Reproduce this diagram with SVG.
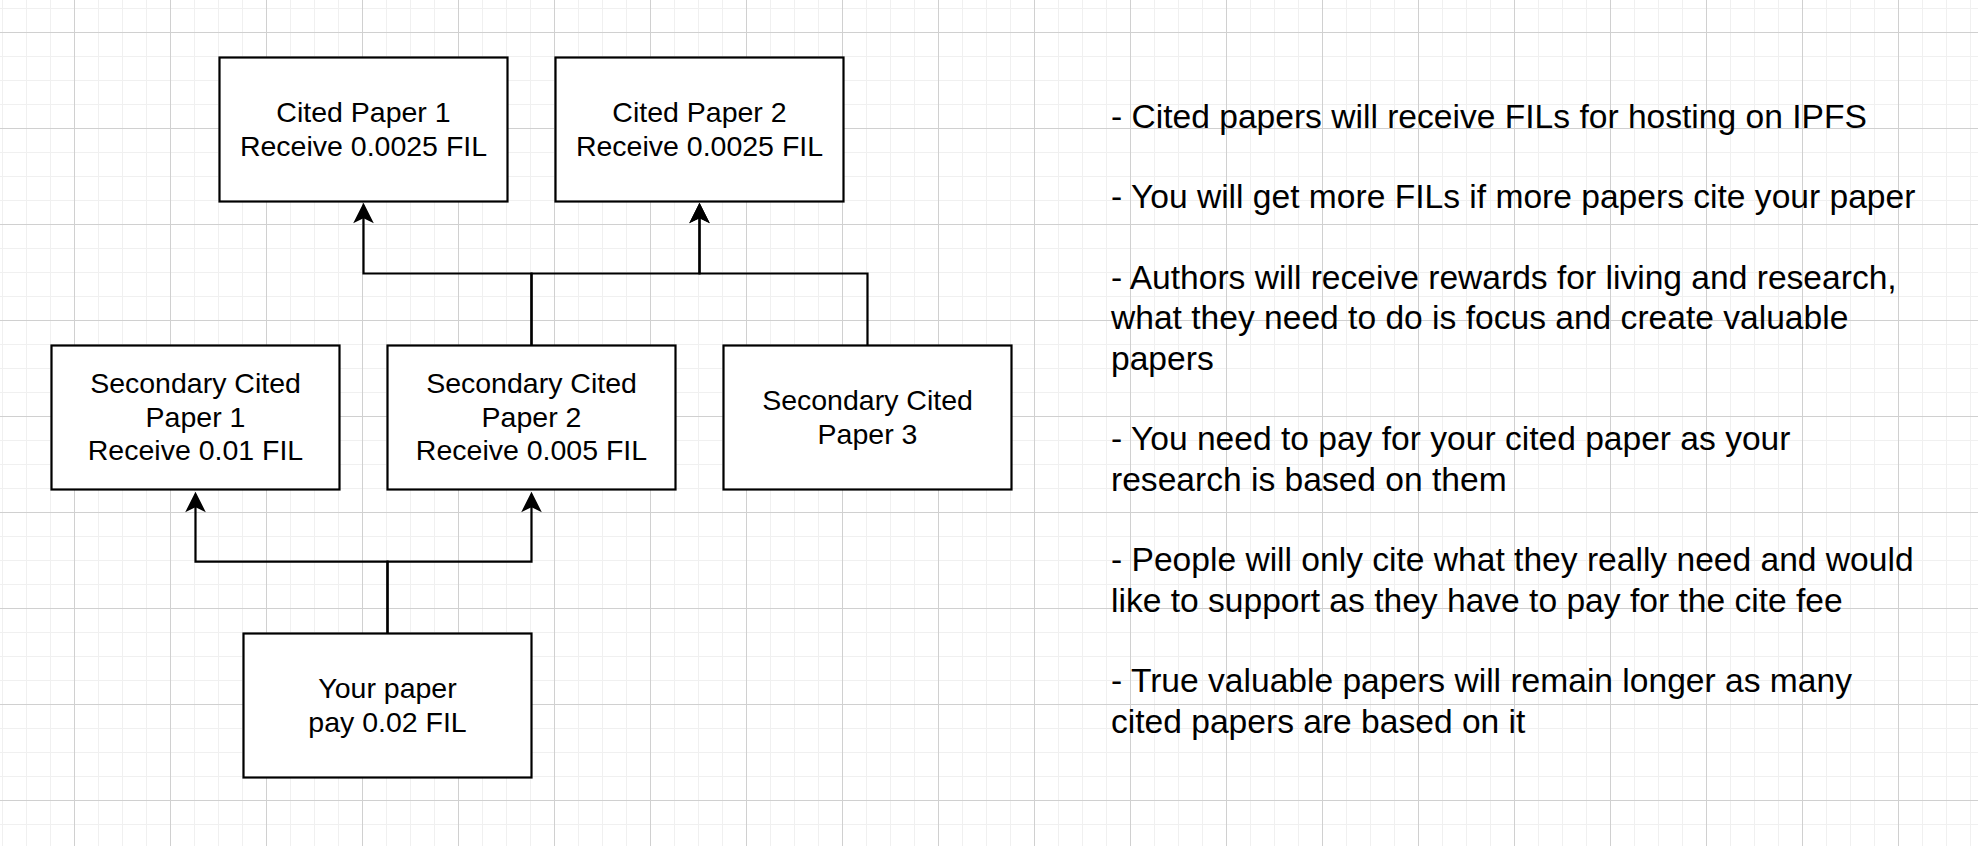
<svg xmlns="http://www.w3.org/2000/svg" width="1978" height="846" viewBox="0 0 1978 846">
  <defs>
    <pattern id="grid" patternUnits="userSpaceOnUse" x="74" y="32" width="96" height="96">
      <path d="M24.5,0V96M48.5,0V96M72.5,0V96M0,24.5H96M0,48.5H96M0,72.5H96" stroke="#f0f0f0" stroke-width="1" fill="none"/>
      <path d="M0.5,0V96M0,0.5H96" stroke="#d0d0d0" stroke-width="1" fill="none"/>
    </pattern>
    <marker id="arrow" markerUnits="userSpaceOnUse" viewBox="-20 -12 26 24" refX="0" refY="0" markerWidth="26" markerHeight="24" orient="auto" overflow="visible">
      <path d="M3,0 L-17.5,-10.3 L-12.5,0 L-17.5,10.3 Z" fill="#000"/>
    </marker>
    <style>
      .box { fill: #ffffff; stroke: #000000; stroke-width: 2.2; }
      .lbl { font-family: "Liberation Sans", Arial, Helvetica, sans-serif; font-size: 28.5px; fill: #000; text-anchor: middle; }
      .note { font-family: "Liberation Sans", Arial, Helvetica, sans-serif; font-size: 33.6px; fill: #000; }
      .edge { fill: none; stroke: #000; stroke-width: 2.2; stroke-linecap: butt; stroke-linejoin: miter; }
    </style>
  </defs>

  <rect x="0" y="0" width="1978" height="846" fill="#ffffff"/>
  <rect x="0" y="0" width="1978" height="846" fill="url(#grid)"/>

  <g id="connectors">
    <path class="edge" d="M531.5,345.5 V273.5 H363.5 V205.7" marker-end="url(#arrow)"/>
    <path class="edge" d="M531.5,345.5 V273.5 H699.5 V205.7" marker-end="url(#arrow)"/>
    <path class="edge" d="M867.5,345.5 V273.5 H699.5 V205.7" marker-end="url(#arrow)"/>
    <path class="edge" d="M387.5,633.5 V561.7 H195.5 V494.7" marker-end="url(#arrow)"/>
    <path class="edge" d="M387.5,633.5 V561.7 H531.5 V494.7" marker-end="url(#arrow)"/>
  </g>

  <g id="cited1">
    <rect class="box" x="219.5" y="57.5" width="288" height="144"/>
    <text class="lbl" x="363.5" y="122.2">Cited Paper 1</text>
    <text class="lbl" x="363.5" y="155.9">Receive 0.0025 FIL</text>
  </g>
  <g id="cited2">
    <rect class="box" x="555.5" y="57.5" width="288" height="144"/>
    <text class="lbl" x="699.5" y="122.2">Cited Paper 2</text>
    <text class="lbl" x="699.5" y="155.9">Receive 0.0025 FIL</text>
  </g>
  <g id="secondary1">
    <rect class="box" x="51.5" y="345.5" width="288" height="144"/>
    <text class="lbl" x="195.5" y="393">Secondary Cited</text>
    <text class="lbl" x="195.5" y="426.7">Paper 1</text>
    <text class="lbl" x="195.5" y="460.4">Receive 0.01 FIL</text>
  </g>
  <g id="secondary2">
    <rect class="box" x="387.5" y="345.5" width="288" height="144"/>
    <text class="lbl" x="531.5" y="393">Secondary Cited</text>
    <text class="lbl" x="531.5" y="426.7">Paper 2</text>
    <text class="lbl" x="531.5" y="460.4">Receive 0.005 FIL</text>
  </g>
  <g id="secondary3">
    <rect class="box" x="723.5" y="345.5" width="288" height="144"/>
    <text class="lbl" x="867.5" y="410.2">Secondary Cited</text>
    <text class="lbl" x="867.5" y="443.9">Paper 3</text>
  </g>
  <g id="yourpaper">
    <rect class="box" x="243.5" y="633.5" width="288" height="144"/>
    <text class="lbl" x="387.5" y="698.2">Your paper</text>
    <text class="lbl" x="387.5" y="731.9">pay 0.02 FIL</text>
  </g>

  <g id="notes">
    <text class="note" x="1111" y="127.7">- Cited papers will receive FILs for hosting on IPFS</text>
    <text class="note" x="1111" y="208.3">- You will get more FILs if more papers cite your paper</text>
    <text class="note" x="1111" y="289">- Authors will receive rewards for living and research,</text>
    <text class="note" x="1111" y="329.3">what they need to do is focus and create valuable</text>
    <text class="note" x="1111" y="369.6">papers</text>
    <text class="note" x="1111" y="450.3">- You need to pay for your cited paper as your</text>
    <text class="note" x="1111" y="490.6">research is based on them</text>
    <text class="note" x="1111" y="571.2">- People will only cite what they really need and would</text>
    <text class="note" x="1111" y="611.5">like to support as they have to pay for the cite fee</text>
    <text class="note" x="1111" y="692.2">- True valuable papers will remain longer as many</text>
    <text class="note" x="1111" y="732.5">cited papers are based on it</text>
  </g>
</svg>
